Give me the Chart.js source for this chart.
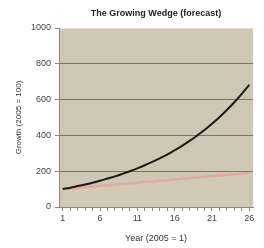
<!DOCTYPE html>
<html>
<head>
<meta charset="utf-8">
<script src="https://cdn.jsdelivr.net/npm/chart.js@4"></script>
<style>
  html, body { margin: 0; padding: 0; background: #fff; }
  #wrap { width: 264px; height: 248px; }
</style>
</head>
<body>
<div id="wrap"><canvas id="wedgeChart" width="264" height="248"></canvas></div>
<script>
const YEARS = ['1', '2', '3', '4', '5', '6', '7', '8', '9', '10', '11', '12', '13', '14', '15', '16', '17', '18', '19', '20', '21', '22', '23', '24', '25', '26'];
const GROWTH_FAST = [100, 108, 117, 126, 136, 147, 159, 171, 185, 200, 216, 233, 252, 272, 293, 317, 342, 369, 399, 430, 465, 502, 542, 585, 632, 682];
const GROWTH_SLOW = [100, 104, 107, 111, 114, 118, 122, 125, 129, 132, 136, 140, 143, 147, 150, 154, 158, 161, 165, 168, 172, 176, 179, 183, 186, 190];
const Y_TICKS = [0, 200, 400, 600, 800, 1000];

const FONT = 'Liberation Sans, Arial, sans-serif';

// tan plot background
const plotBackground = {
    id: 'plotBackground',
    beforeDraw(chart) {
        const { ctx, chartArea: a } = chart;
        ctx.save();
        ctx.fillStyle = 'rgb(206,199,181)';
        ctx.fillRect(a.left, a.top, a.right - a.left, a.bottom - a.top);
        ctx.restore();
    }
};

const dataWedge = {
    labels: YEARS,
    datasets: [
        {
            label: 'Fast',
            data: GROWTH_FAST,
            borderColor: 'rgb(28,26,22)',
            borderWidth: 2,
            pointRadius: 0,
            tension: 0.4,
            fill: false,
        },
        {
            label: 'Slow',
            data: GROWTH_SLOW,
            borderColor: 'rgba(230,165,155,0.9)',
            borderWidth: 2.5,
            pointRadius: 0,
            tension: 0.4,
            fill: 'origin',
            backgroundColor: 'rgba(212,208,184,0.45)',
        }
    ]
};

const configWedge = {
    type: 'line',
    data: dataWedge,
    options: {
        responsive: false,
        animation: false,
        layout: { padding: { left: 4, right: 11, top: 0, bottom: 4 } },
        plugins: {
            legend: { display: false },
            tooltip: { enabled: false },
            title: {
                display: true,
                fullSize: false,
                text: 'The Growing Wedge (forecast)',
                color: '#222',
                font: { family: FONT, size: 9, weight: 'bold', lineHeight: 1.2 },
                padding: { top: 8.6, bottom: 8.6 }
            }
        },
        scales: {
            x: {
                offset: true,
                grid: {
                    drawOnChartArea: false,
                    tickLength: 4,
                    color: '#8a8a80',
                    offset: false
                },
                border: { color: '#8a8a80' },
                ticks: {
                    autoSkip: false,
                    maxRotation: 0,
                    padding: 2,
                    color: '#444',
                    font: { family: FONT, size: 9 },
                    callback: function (v, i) { return i % 5 === 0 ? YEARS[i] : ''; }
                },
                title: {
                    display: true,
                    text: 'Year (2005 = 1)',
                    color: '#333',
                    font: { family: FONT, size: 9 },
                    padding: { top: 6, bottom: 0 }
                },
                afterFit: function (s) { s.height = 37; }
            },
            y: {
                min: 0,
                max: 1000,
                afterBuildTicks: function (s) { s.ticks = Y_TICKS.map(v => ({ value: v })); },
                grid: {
                    tickLength: 4,
                    tickColor: '#8a8a80',
                    color: function (c) {
                        if (c.tick.value === 0) return 'rgba(0,0,0,0)';
                        if (c.tick.value === 1000) return 'rgba(235,232,220,0.8)';
                        return 'rgb(120,118,100)';
                    }
                },
                border: { color: '#8a8a80' },
                ticks: {
                    padding: 4,
                    color: '#444',
                    font: { family: FONT, size: 9 },
                    callback: function (v) { return String(v); }
                },
                title: {
                    display: true,
                    text: 'Growth (2005 = 100)',
                    color: '#333',
                    font: { family: FONT, size: 8 },
                    padding: { top: 10, bottom: 0 }
                },
                afterFit: function (s) { s.width = 55; }
            }
        }
    },
    plugins: [plotBackground]
};

var wedgeChart = new Chart(
    document.getElementById('wedgeChart'),
    configWedge
);
</script>
</body>
</html>
